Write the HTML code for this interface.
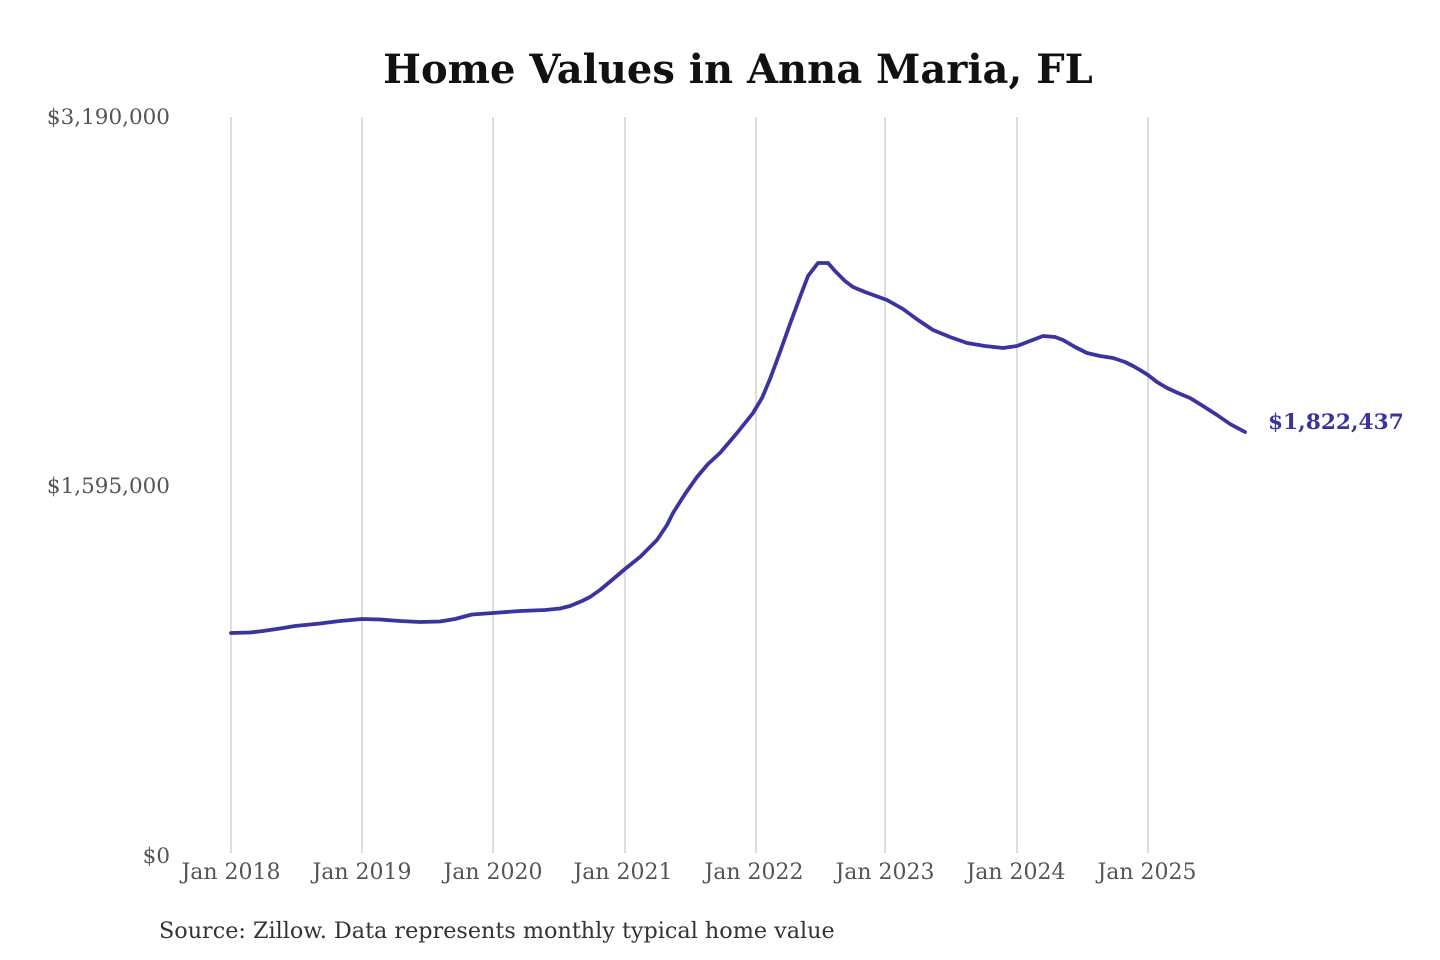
<!DOCTYPE html>
<html>
<head>
<meta charset="utf-8">
<style>
  html, body { margin:0; padding:0; background:#ffffff; }
  body { width:1440px; height:960px; overflow:hidden; }
  svg { display:block; }
  .tick { font-family:"DejaVu Serif","Liberation Serif",serif; font-size:22px; fill:#555555; }
  .ytick { font-family:"DejaVu Serif","Liberation Serif",serif; font-size:21.5px; fill:#555555; }
  .title { font-family:"DejaVu Serif","Liberation Serif",serif; font-size:40px; font-weight:bold; fill:#111111; }
  .src { font-family:"DejaVu Serif","Liberation Serif",serif; font-size:22.3px; fill:#333333; }
  .lbl { font-family:"DejaVu Serif","Liberation Serif",serif; font-size:21.7px; font-weight:bold; fill:#3a33a0; }
</style>
</head>
<body>
<svg width="1440" height="960" viewBox="0 0 1440 960" xmlns="http://www.w3.org/2000/svg">
  <rect x="0" y="0" width="1440" height="960" fill="#ffffff"/>
  <text class="title" x="738" y="83" text-anchor="middle">Home Values in Anna Maria, FL</text>

  <!-- gridlines -->
  <g stroke="#c6c6c6" stroke-width="1.2">
    <line x1="231" y1="117" x2="231" y2="853"/>
    <line x1="362" y1="117" x2="362" y2="853"/>
    <line x1="493" y1="117" x2="493" y2="853"/>
    <line x1="625" y1="117" x2="625" y2="853"/>
    <line x1="756" y1="117" x2="756" y2="853"/>
    <line x1="885" y1="117" x2="885" y2="853"/>
    <line x1="1017" y1="117" x2="1017" y2="853"/>
    <line x1="1148" y1="117" x2="1148" y2="853"/>
  </g>

  <!-- y labels -->
  <text class="ytick" x="170" y="124" text-anchor="end">$3,190,000</text>
  <text class="ytick" x="170" y="493" text-anchor="end">$1,595,000</text>
  <text class="ytick" x="170" y="863" text-anchor="end">$0</text>

  <!-- x labels -->
  <text class="tick" x="231" y="879" text-anchor="middle">Jan 2018</text>
  <text class="tick" x="362" y="879" text-anchor="middle">Jan 2019</text>
  <text class="tick" x="493" y="879" text-anchor="middle">Jan 2020</text>
  <text class="tick" x="623" y="879" text-anchor="middle">Jan 2021</text>
  <text class="tick" x="754" y="879" text-anchor="middle">Jan 2022</text>
  <text class="tick" x="885" y="879" text-anchor="middle">Jan 2023</text>
  <text class="tick" x="1016" y="879" text-anchor="middle">Jan 2024</text>
  <text class="tick" x="1147" y="879" text-anchor="middle">Jan 2025</text>

  <!-- series -->
  <polyline fill="none" stroke="#3a33a0" stroke-width="3.8" stroke-linejoin="round" stroke-linecap="round"
    points="231,633 250,632.5 263,631 280,628.5 295,626 320,623.5 340,621 362,619 380,619.5 400,621 420,622 440,621.5 455,619 472,614.5 493,613 520,611 545,610 560,608.5 570,606 582,601 590,597 600,590 612,580 625,569 640,557 657,540 667,525 673,513 685,494 697,477 708,464 720,453 737,433 753,413 762,398 770,379 780,352 790,324 800,297 808,276 818,263 828,263 835,271 845,281 853,287 865,292 887,300 903,309 918,320 933,330 950,337 967,343 985,346 1003,348 1017,346 1030,341 1043,336 1055,337 1063,340 1075,347 1087,353 1100,356 1113,358 1125,362 1133,366 1140,370 1148,375 1157,382 1167,388 1178,393 1190,398 1203,406 1217,415 1230,424 1245,432"/>

  <text class="lbl" x="1268" y="429">$1,822,437</text>

  <text class="src" x="159" y="938">Source: Zillow. Data represents monthly typical home value</text>
</svg>
</body>
</html>
